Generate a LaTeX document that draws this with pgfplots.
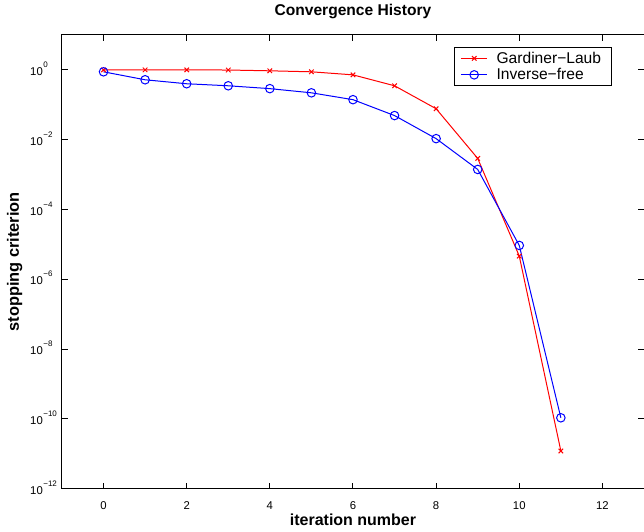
\documentclass[border=0pt]{standalone}
\usepackage{fontspec}
\setmainfont{Liberation Sans}
\usepackage{pgfplots}
\pgfplotsset{compat=1.18}
% log tick label: 10 with a small raised exponent
\newcommand{\tl}[1]{10\hspace{0.4pt}\raisebox{0.72em}{\fontsize{6}{6}\selectfont #1}}
\begin{document}
\begin{tikzpicture}
\begin{axis}[
  at={(0,0)}, anchor=south west,
  scale only axis, width=436.9pt, height=340.5pt,
  xmin=-1, xmax=13,
  ymode=log, ymin=1e-12, ymax=10,
  xtick={0,2,...,12},
  ytick={1e-12,1e-10,1e-8,1e-6,1e-4,1e-2,1},
  yticklabels={\tl{−12},\tl{−10},\tl{−8},\tl{−6},\tl{−4},\tl{−2},\tl{0}},
  minor y tick num=0,
  /pgf/number format/assume math mode=true,
  tick align=inside, major tick length=4.5pt,
  axis line style={line width=0.75pt},
  every tick/.style={black, line width=0.75pt},
  xticklabel style={font=\fontsize{8.5}{8.5}\selectfont, anchor=base, inner sep=0pt, yshift=-15.75pt},
  yticklabel style={font=\fontsize{8.5}{8.5}\selectfont, anchor=base west, inner sep=0pt, xshift=-24pt, yshift=-4.3pt},
  title={\bfseries Convergence History},
  title style={font=\fontsize{11.7}{11.7}\selectfont, at={(axis description cs:0.5,1.0264)}, anchor=base, inner sep=0pt},
  xlabel={\bfseries iteration number},
  xlabel style={font=\fontsize{12}{12}\selectfont, at={(axis description cs:0.5,-0.0815)}, anchor=base, inner sep=0pt},
  ylabel={\bfseries stopping criterion},
  ylabel style={font=\fontsize{12.3}{12.3}\selectfont, at={(axis description cs:-0.0739,0.5)}, anchor=base, inner sep=0pt},
  legend style={at={(axis description cs:0.9442,0.9736)}, anchor=north east,
    draw=black, line width=0.75pt, fill=white,
    font=\fontsize{11.7}{12.5}\selectfont, inner xsep=4.5pt, inner ysep=2pt,
    nodes={inner ysep=1.2pt, inner xsep=3pt}},
  legend cell align=left,
  legend image code/.code={\draw[#1, mark repeat=2, mark phase=2] plot coordinates {(0cm,0cm) (0.35cm,0cm) (0.7cm,0cm)};
    \path (0.7cm+3.5pt,0cm);},
]
\addplot[red, line width=0.75pt, mark=x, mark size=2.4pt] coordinates {
  (0,1.0) (1,1.0) (2,1.0) (3,0.99) (4,0.94) (5,0.88) (6,0.72)
  (7,0.35) (8,0.077) (9,2.9e-3) (10,4.6e-6) (11,1.2e-11)
};
\addlegendentry{Gardiner−Laub}
\addplot[blue, line width=0.75pt, mark=o, mark size=3.2pt] coordinates {
  (0,0.88) (1,0.52) (2,0.40) (3,0.35) (4,0.29) (5,0.22) (6,0.14)
  (7,0.049) (8,0.0107) (9,1.4e-3) (10,9.3e-6) (11,1.07e-10)
};
\addlegendentry{Inverse−free}
\end{axis}
\pgfresetboundingbox
\path[use as bounding box] (-46.5pt,-32.25pt) rectangle (436.9pt,366.75pt);
\end{tikzpicture}
\end{document}
